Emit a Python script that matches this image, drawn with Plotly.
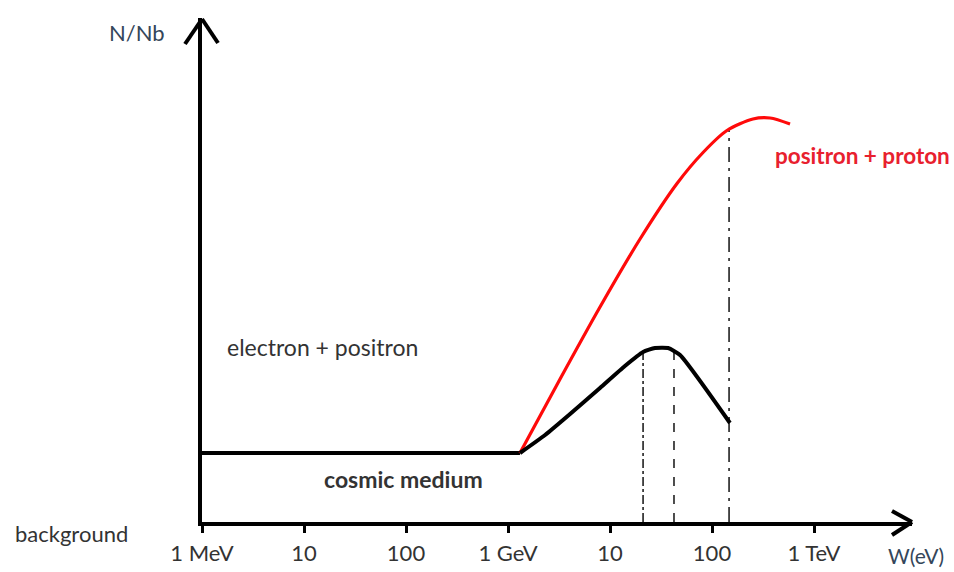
import plotly.graph_objects as go

# ---------------- data ----------------
tick_vals = [1e6, 1e7, 1e8, 1e9, 1e10, 1e11, 1e12]
tick_text = ["1 MeV", "10", "100", "1 GeV", "10", "100", "1 TeV"]

# flat "cosmic medium" level
flat_w = [1e6, 1.31e9]
flat_n = [1.38, 1.38]

# positron + proton (red)
red_w = [1.31e9, 3.24e9, 7.98e9, 1.97e10, 4.54e10, 8.17e10, 1.40e11, 2.52e11, 3.71e11, 5.82e11]
red_n = [1.38, 2.86, 4.3, 5.66, 6.77, 7.39, 7.83, 8.06, 8.08, 7.96]

# electron + positron (black)
blk_w = [1.31e9, 2.31e9, 4.06e9, 7.98e9, 1.40e10, 2.11e10, 2.76e10, 3.71e10, 4.86e10, 1.5e11]
blk_n = [1.38, 1.74, 2.16, 2.68, 3.12, 3.4, 3.48, 3.48, 3.34, 1.98]

# vertical guide lines: energy, top level, dash style
guide_w = [2.11e10, 4.24e10, 1.47e11]
guide_top = [3.42, 3.42, 7.86]
guide_dash = ["dashdot", "dash", "longdashdot"]

# ---------------- layout geometry ----------------
W, H = 954, 572
L, R, T, B = 202, 912, 18, 522
PX_PER_DECADE = 102.0


def px(x):
    return (x - L) / (R - L)


def py(y):
    return (B - y) / (B - T)


fig = go.Figure()

fig.add_trace(go.Scatter(x=flat_w, y=flat_n, mode="lines",
                         line=dict(color="black", width=4), hoverinfo="skip"))
for gw, gt, gd in zip(guide_w, guide_top, guide_dash):
    fig.add_trace(go.Scatter(x=[gw, gw], y=[0, gt], mode="lines",
                             line=dict(color="#3a3a3a", width=1.8, dash=gd),
                             hoverinfo="skip"))
fig.add_trace(go.Scatter(x=red_w, y=red_n, mode="lines",
                         line=dict(color="#ff0a0a", width=3.2, shape="spline",
                                   smoothing=0.8), hoverinfo="skip"))
fig.add_trace(go.Scatter(x=blk_w, y=blk_n, mode="lines",
                         line=dict(color="black", width=4, shape="spline",
                                   smoothing=0.5), hoverinfo="skip"))

txt_col = "#333333"
font_main = "Lato, 'Open Sans', sans-serif"

fig.update_xaxes(type="log", range=[6, 6 + (R - L) / PX_PER_DECADE],
                 tickvals=tick_vals, ticktext=tick_text,
                 ticks="outside", ticklen=7, tickwidth=3, tickcolor="black",
                 showline=True, linewidth=4, linecolor="black",
                 showgrid=False, zeroline=False, automargin=False,
                 ticklabelstandoff=2,
                 tickfont=dict(family=font_main, size=22, color=txt_col))
fig.update_yaxes(range=[0, (B - T) / 50.0], showline=True, linewidth=4,
                 linecolor="black", showgrid=False, zeroline=False,
                 showticklabels=False, ticks="", automargin=False)

ann = [
    dict(text="N/Nb", x=px(137), y=py(32), size=22, color="#34465a"),
    dict(text="W(eV)", x=px(916), y=py(555), size=21, color="#34465a"),
    dict(text="background", x=px(71), y=py(533), size=22, color=txt_col),
    dict(text="electron + positron", x=px(322), y=py(347), size=23, color=txt_col),
    dict(text="<b>cosmic medium</b>", x=px(403), y=py(479), size=23, color=txt_col),
    dict(text="<b>positron + proton</b>", x=px(862), y=py(155), size=22.5, color="#e8202e"),
]
for a in ann:
    fig.add_annotation(text=a["text"], x=a["x"], y=a["y"], xref="paper", yref="paper",
                       showarrow=False, xanchor="center", yanchor="middle",
                       font=dict(family=font_main, size=a["size"], color=a["color"]))

# arrow heads (open chevrons)
arrow_lines = [
    ((892, 511), (912, 522)), ((892, 535), (912, 522)),
    ((185, 44), (202, 19)), ((218, 43), (202, 19)),
]
for (x0, y0), (x1, y1) in arrow_lines:
    fig.add_shape(type="line", xref="paper", yref="paper",
                  x0=px(x0), y0=py(y0), x1=px(x1), y1=py(y1),
                  line=dict(color="black", width=4))

fig.update_layout(width=W, height=H, showlegend=False,
                  margin=dict(l=L, r=W - R, t=T, b=H - B, autoexpand=False),
                  plot_bgcolor="white", paper_bgcolor="white")

fig.write_html("out.html", config={"displayModeBar": False},
               post_script="document.body.style.margin='0';document.body.style.overflow='hidden';")
